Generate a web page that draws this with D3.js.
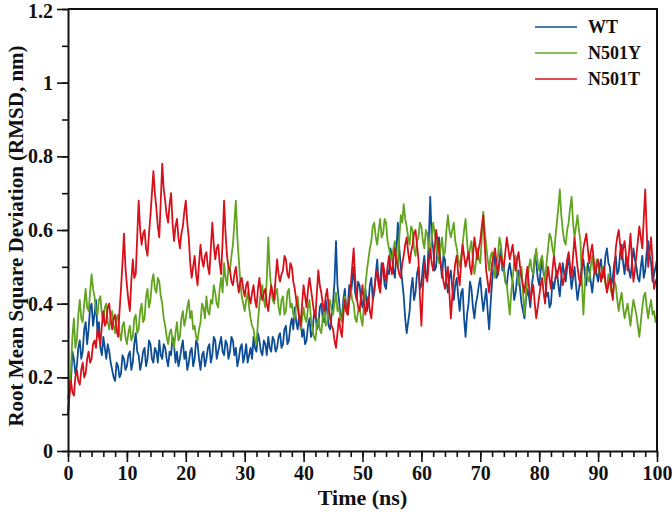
<!DOCTYPE html>
<html>
<head>
<meta charset="utf-8">
<script src="https://cdn.jsdelivr.net/npm/d3@7"></script>
<style>
  body { margin: 0; background: #fff; }
  svg text { font-family: "Liberation Serif", "Times New Roman", serif; font-weight: bold; fill: #111; }
</style>
</head>
<body>
<div class="rmsd-page"></div>
<script>
// RMSD sampled every 0.25 ns, 0..100 ns
const step = 0.25;
const seriesNames = ["WT", "N501Y", "N501T"];
const colors = ["#0d4d95", "#62a420", "#d7101a"];

const wt = [
  0.10, 0.16, 0.19, 0.27, 0.25, 0.21, 0.23, 0.28, 0.30, 0.25, 0.27, 0.33, 0.35, 0.29, 0.33, 0.39, 0.40, 0.34, 0.37, 0.41,
  0.32, 0.35, 0.28, 0.26, 0.31, 0.28, 0.25, 0.29, 0.27, 0.24, 0.22, 0.20, 0.19, 0.24, 0.23, 0.20, 0.21, 0.26, 0.25, 0.22,
  0.23, 0.26, 0.27, 0.22, 0.24, 0.29, 0.32, 0.27, 0.26, 0.22, 0.24, 0.27, 0.28, 0.23, 0.25, 0.30, 0.29, 0.25, 0.24, 0.28,
  0.27, 0.24, 0.30, 0.26, 0.25, 0.29, 0.28, 0.25, 0.23, 0.27, 0.26, 0.31, 0.29, 0.24, 0.27, 0.23, 0.25, 0.28, 0.30, 0.25,
  0.27, 0.22, 0.24, 0.27, 0.28, 0.23, 0.25, 0.30, 0.29, 0.25, 0.22, 0.26, 0.27, 0.23, 0.25, 0.28, 0.29, 0.24, 0.26, 0.31,
  0.30, 0.25, 0.27, 0.29, 0.31, 0.27, 0.26, 0.30, 0.29, 0.25, 0.27, 0.31, 0.30, 0.26, 0.28, 0.23, 0.25, 0.28, 0.29, 0.24,
  0.26, 0.29, 0.24, 0.26, 0.28, 0.25, 0.31, 0.28, 0.27, 0.32, 0.30, 0.27, 0.26, 0.30, 0.29, 0.26, 0.31, 0.28, 0.27, 0.31,
  0.30, 0.27, 0.28, 0.31, 0.32, 0.28, 0.29, 0.33, 0.34, 0.29, 0.30, 0.34, 0.36, 0.33, 0.39, 0.35, 0.33, 0.37, 0.36, 0.31,
  0.33, 0.29, 0.30, 0.34, 0.36, 0.31, 0.32, 0.37, 0.38, 0.33, 0.34, 0.39, 0.40, 0.36, 0.35, 0.41, 0.38, 0.34, 0.33, 0.37,
  0.40, 0.46, 0.57, 0.45, 0.41, 0.37, 0.36, 0.41, 0.44, 0.38, 0.39, 0.45, 0.42, 0.46, 0.50, 0.43, 0.41, 0.46, 0.45, 0.41,
  0.39, 0.42, 0.44, 0.38, 0.40, 0.45, 0.47, 0.41, 0.43, 0.48, 0.52, 0.45, 0.46, 0.51, 0.50, 0.45, 0.44, 0.49, 0.48, 0.55,
  0.53, 0.49, 0.47, 0.54, 0.62, 0.55, 0.50, 0.46, 0.42, 0.36, 0.32, 0.35, 0.38, 0.44, 0.47, 0.41, 0.43, 0.48, 0.50, 0.44,
  0.45, 0.50, 0.53, 0.47, 0.48, 0.57, 0.69, 0.58, 0.55, 0.49, 0.50, 0.56, 0.58, 0.51, 0.47, 0.53, 0.52, 0.46, 0.43, 0.47,
  0.49, 0.44, 0.41, 0.45, 0.47, 0.42, 0.38, 0.43, 0.44, 0.36, 0.31, 0.37, 0.40, 0.46, 0.44, 0.39, 0.36, 0.40, 0.42, 0.45,
  0.47, 0.42, 0.38, 0.41, 0.44, 0.38, 0.33, 0.40, 0.46, 0.50, 0.53, 0.47, 0.48, 0.52, 0.55, 0.49, 0.50, 0.46, 0.45, 0.49,
  0.51, 0.48, 0.46, 0.41, 0.43, 0.47, 0.49, 0.44, 0.40, 0.38, 0.36, 0.41, 0.44, 0.42, 0.39, 0.45, 0.48, 0.53, 0.51, 0.47,
  0.45, 0.49, 0.52, 0.48, 0.47, 0.42, 0.43, 0.39, 0.40, 0.46, 0.44, 0.47, 0.49, 0.45, 0.42, 0.47, 0.51, 0.48, 0.46, 0.50,
  0.53, 0.48, 0.44, 0.47, 0.50, 0.45, 0.41, 0.44, 0.47, 0.50, 0.52, 0.48, 0.45, 0.51, 0.49, 0.46, 0.43, 0.47, 0.50, 0.48,
  0.46, 0.50, 0.52, 0.47, 0.48, 0.53, 0.55, 0.51, 0.50, 0.45, 0.47, 0.51, 0.53, 0.48, 0.49, 0.54, 0.56, 0.51, 0.48, 0.53,
  0.52, 0.49, 0.47, 0.51, 0.55, 0.52, 0.50, 0.47, 0.46, 0.50, 0.53, 0.47, 0.49, 0.54, 0.57, 0.53, 0.51, 0.46, 0.48, 0.50,
  0.52
];

const n501y = [
  0.14, 0.17, 0.22, 0.31, 0.36, 0.28, 0.30, 0.37, 0.41, 0.36, 0.35, 0.40, 0.44, 0.39, 0.38, 0.43, 0.48, 0.44, 0.42, 0.38,
  0.37, 0.41, 0.42, 0.37, 0.35, 0.39, 0.40, 0.35, 0.33, 0.37, 0.38, 0.34, 0.32, 0.36, 0.37, 0.32, 0.30, 0.34, 0.35, 0.31,
  0.29, 0.32, 0.34, 0.30, 0.31, 0.36, 0.37, 0.32, 0.33, 0.38, 0.40, 0.35, 0.36, 0.42, 0.44, 0.39, 0.41, 0.46, 0.48, 0.44,
  0.43, 0.47, 0.46, 0.42, 0.40, 0.36, 0.34, 0.31, 0.29, 0.32, 0.33, 0.30, 0.28, 0.32, 0.35, 0.30, 0.31, 0.36, 0.38, 0.34,
  0.36, 0.39, 0.41, 0.36, 0.38, 0.33, 0.34, 0.31, 0.30, 0.33, 0.35, 0.40, 0.39, 0.36, 0.42, 0.38, 0.37, 0.41, 0.40, 0.45,
  0.43, 0.40, 0.39, 0.44, 0.47, 0.43, 0.51, 0.47, 0.45, 0.50, 0.49, 0.53, 0.56, 0.62, 0.68, 0.58, 0.52, 0.46, 0.42, 0.40,
  0.38, 0.41, 0.43, 0.39, 0.36, 0.34, 0.33, 0.30, 0.29, 0.35, 0.40, 0.43, 0.45, 0.41, 0.39, 0.47, 0.58, 0.49, 0.44, 0.41,
  0.40, 0.43, 0.44, 0.39, 0.37, 0.41, 0.42, 0.37, 0.38, 0.43, 0.44, 0.39, 0.40, 0.37, 0.36, 0.40, 0.42, 0.37, 0.33, 0.36,
  0.39, 0.36, 0.35, 0.39, 0.41, 0.36, 0.33, 0.31, 0.30, 0.34, 0.36, 0.33, 0.32, 0.36, 0.38, 0.34, 0.35, 0.39, 0.41, 0.38,
  0.37, 0.40, 0.43, 0.38, 0.39, 0.36, 0.35, 0.39, 0.42, 0.38, 0.37, 0.41, 0.44, 0.41, 0.40, 0.36, 0.35, 0.38, 0.39, 0.36,
  0.34, 0.40, 0.45, 0.49, 0.52, 0.55, 0.57, 0.61, 0.62, 0.58, 0.56, 0.60, 0.63, 0.58, 0.59, 0.63, 0.62, 0.57, 0.55, 0.53,
  0.52, 0.55, 0.57, 0.52, 0.50, 0.58, 0.64, 0.62, 0.67, 0.63, 0.61, 0.58, 0.56, 0.61, 0.60, 0.55, 0.53, 0.57, 0.58, 0.62,
  0.61, 0.57, 0.55, 0.60, 0.59, 0.55, 0.53, 0.58, 0.62, 0.59, 0.57, 0.53, 0.51, 0.55, 0.58, 0.53, 0.54, 0.60, 0.64, 0.60,
  0.58, 0.60, 0.62, 0.57, 0.55, 0.52, 0.50, 0.53, 0.56, 0.60, 0.63, 0.57, 0.52, 0.55, 0.57, 0.52, 0.48, 0.51, 0.55, 0.52,
  0.51, 0.58, 0.65, 0.60, 0.56, 0.52, 0.49, 0.53, 0.54, 0.50, 0.47, 0.51, 0.53, 0.58, 0.56, 0.52, 0.49, 0.46, 0.45, 0.41,
  0.37, 0.43, 0.47, 0.51, 0.53, 0.48, 0.45, 0.48, 0.50, 0.43, 0.37, 0.42, 0.46, 0.50, 0.52, 0.49, 0.48, 0.52, 0.55, 0.51,
  0.49, 0.52, 0.53, 0.49, 0.46, 0.51, 0.55, 0.59, 0.58, 0.55, 0.53, 0.58, 0.62, 0.66, 0.71, 0.64, 0.60, 0.57, 0.56, 0.60,
  0.62, 0.66, 0.69, 0.62, 0.58, 0.61, 0.64, 0.60, 0.57, 0.46, 0.37, 0.45, 0.50, 0.47, 0.46, 0.50, 0.53, 0.49, 0.48, 0.52,
  0.51, 0.48, 0.46, 0.50, 0.49, 0.45, 0.44, 0.48, 0.47, 0.43, 0.42, 0.46, 0.45, 0.41, 0.38, 0.41, 0.43, 0.39, 0.36, 0.38,
  0.40, 0.37, 0.34, 0.38, 0.41, 0.39, 0.37, 0.34, 0.31, 0.35, 0.39, 0.42, 0.43, 0.39, 0.36, 0.39, 0.41, 0.37, 0.38, 0.35,
  0.37
];

const n501t = [
  0.10, 0.15, 0.19, 0.16, 0.15, 0.20, 0.22, 0.19, 0.18, 0.22, 0.24, 0.20, 0.21, 0.25, 0.27, 0.24, 0.25, 0.29, 0.30, 0.28,
  0.33, 0.31, 0.29, 0.34, 0.38, 0.34, 0.35, 0.39, 0.40, 0.36, 0.33, 0.36, 0.37, 0.33, 0.31, 0.38, 0.44, 0.51, 0.59, 0.50,
  0.45, 0.41, 0.38, 0.46, 0.52, 0.47, 0.48, 0.58, 0.68, 0.60, 0.56, 0.59, 0.60, 0.55, 0.53, 0.59, 0.64, 0.70, 0.76, 0.70,
  0.66, 0.61, 0.58, 0.68, 0.78, 0.71, 0.68, 0.64, 0.62, 0.67, 0.70, 0.62, 0.57, 0.61, 0.63, 0.58, 0.55, 0.59, 0.61, 0.65,
  0.68, 0.62, 0.58, 0.51, 0.47, 0.50, 0.53, 0.48, 0.45, 0.51, 0.56, 0.52, 0.50, 0.53, 0.54, 0.50, 0.48, 0.55, 0.62, 0.56,
  0.52, 0.55, 0.56, 0.51, 0.48, 0.57, 0.68, 0.59, 0.53, 0.50, 0.49, 0.46, 0.45, 0.48, 0.50, 0.46, 0.43, 0.46, 0.47, 0.44,
  0.42, 0.45, 0.46, 0.42, 0.40, 0.43, 0.45, 0.41, 0.39, 0.44, 0.47, 0.43, 0.41, 0.43, 0.44, 0.40, 0.38, 0.42, 0.45, 0.43,
  0.41, 0.47, 0.52, 0.48, 0.46, 0.48, 0.49, 0.53, 0.52, 0.48, 0.47, 0.51, 0.50, 0.46, 0.44, 0.41, 0.39, 0.36, 0.34, 0.40,
  0.45, 0.42, 0.39, 0.44, 0.47, 0.44, 0.41, 0.38, 0.36, 0.43, 0.49, 0.45, 0.43, 0.40, 0.38, 0.42, 0.44, 0.39, 0.36, 0.34,
  0.33, 0.30, 0.28, 0.32, 0.36, 0.33, 0.31, 0.37, 0.41, 0.38, 0.37, 0.41, 0.45, 0.50, 0.55, 0.47, 0.42, 0.39, 0.38, 0.42,
  0.45, 0.40, 0.37, 0.40, 0.42, 0.38, 0.36, 0.41, 0.44, 0.47, 0.49, 0.45, 0.43, 0.48, 0.51, 0.48, 0.46, 0.50, 0.53, 0.50,
  0.48, 0.52, 0.55, 0.52, 0.50, 0.48, 0.47, 0.51, 0.53, 0.56, 0.58, 0.54, 0.51, 0.54, 0.56, 0.59, 0.60, 0.56, 0.52, 0.42,
  0.34, 0.44, 0.51, 0.48, 0.46, 0.51, 0.55, 0.51, 0.49, 0.55, 0.60, 0.57, 0.54, 0.51, 0.49, 0.46, 0.44, 0.47, 0.50, 0.43,
  0.36, 0.42, 0.47, 0.51, 0.53, 0.48, 0.45, 0.51, 0.56, 0.53, 0.50, 0.52, 0.54, 0.50, 0.48, 0.53, 0.58, 0.55, 0.52, 0.55,
  0.57, 0.61, 0.64, 0.56, 0.49, 0.46, 0.43, 0.47, 0.51, 0.53, 0.55, 0.51, 0.48, 0.51, 0.53, 0.51, 0.50, 0.54, 0.58, 0.55,
  0.52, 0.54, 0.56, 0.52, 0.49, 0.52, 0.54, 0.50, 0.47, 0.45, 0.43, 0.47, 0.50, 0.45, 0.41, 0.43, 0.45, 0.40, 0.36, 0.39,
  0.42, 0.45, 0.47, 0.43, 0.40, 0.46, 0.50, 0.47, 0.44, 0.49, 0.53, 0.50, 0.47, 0.49, 0.51, 0.48, 0.45, 0.47, 0.49, 0.52,
  0.54, 0.50, 0.47, 0.53, 0.58, 0.54, 0.50, 0.47, 0.45, 0.50, 0.55, 0.57, 0.59, 0.55, 0.51, 0.54, 0.56, 0.52, 0.48, 0.50,
  0.52, 0.49, 0.46, 0.48, 0.50, 0.46, 0.43, 0.45, 0.47, 0.44, 0.41, 0.48, 0.55, 0.58, 0.60, 0.56, 0.52, 0.55, 0.57, 0.53,
  0.49, 0.54, 0.59, 0.52, 0.46, 0.49, 0.53, 0.57, 0.61, 0.58, 0.55, 0.63, 0.71, 0.60, 0.50, 0.54, 0.58, 0.51, 0.44, 0.46,
  0.47
];

const xTicks = [0, 10, 20, 30, 40, 50, 60, 70, 80, 90, 100];
const yTicks = [0, 0.2, 0.4, 0.6, 0.8, 1, 1.2];

let width = 672, height = 518;
let margin = { left: 68, right: 15, top: 9, bottom: 67 };

let svg = d3.select(".rmsd-page")
  .append("svg")
  .attr("width", width)
  .attr("height", height);

let x = d3.scaleLinear().domain([0, 100]).range([margin.left, width - margin.right]);
let y = d3.scaleLinear().domain([0, 1.2]).range([height - margin.bottom, margin.top]);

let allSeries = [wt, n501y, n501t];

let line = d3.line()
  .x(function(d, i) { return x(i * step); })
  .y(function(d) { return y(d); });

let plot = svg.append("g");
allSeries.forEach(function(s, k) {
  plot.append("path")
    .datum(s)
    .attr("fill", "none")
    .attr("stroke", colors[k])
    .attr("stroke-width", 1.8)
    .attr("stroke-linejoin", "round")
    .attr("d", line);
});

// minor ticks
let xMinor = d3.range(0, 101, 2);
let yMinor = d3.range(0, 1.21, 0.1);

svg.append("g")
  .attr("transform", "translate(0," + y(0) + ")")
  .call(d3.axisBottom(x).tickValues(xMinor).tickSize(6).tickFormat(""))
  .call(function(g) { g.select(".domain").remove(); });

svg.append("g")
  .attr("transform", "translate(" + x(0) + ",0)")
  .call(d3.axisLeft(y).tickValues(yMinor).tickSize(6).tickFormat(""))
  .call(function(g) { g.select(".domain").remove(); });

let xAxis = svg.append("g")
  .attr("transform", "translate(0," + y(0) + ")")
  .call(d3.axisBottom(x).tickValues(xTicks).tickSize(11).tickPadding(4).tickSizeOuter(0));

let yAxis = svg.append("g")
  .attr("transform", "translate(" + x(0) + ",0)")
  .call(d3.axisLeft(y).tickValues(yTicks).tickSize(11).tickPadding(4).tickSizeOuter(0)
    .tickFormat(function(d) { return String(+d.toFixed(1)); }));

[xAxis, yAxis].forEach(function(g) {
  g.select(".domain").attr("stroke", "#111").attr("stroke-width", 2);
  g.selectAll("text").style("font-size", "20px");
});
// nudge the top label so it stays inside the page
yAxis.selectAll("text").filter(function(d) { return d === 1.2; }).attr("dy", "0.42em");
svg.selectAll("g.tick line").attr("stroke", "#111").attr("stroke-width", 1.6);

// frame top and right
svg.append("path")
  .attr("d", "M" + x(0) + "," + y(1.2) + "H" + x(100) + "V" + y(0))
  .attr("fill", "none")
  .attr("stroke", "#111")
  .attr("stroke-width", 2);

svg.append("text")
  .attr("x", (x(0) + x(100)) / 2)
  .attr("y", 505)
  .attr("text-anchor", "middle")
  .style("font-size", "22px")
  .text("Time (ns)");

svg.append("text")
  .attr("transform", "translate(23,236) rotate(-90)")
  .attr("text-anchor", "middle")
  .style("font-size", "21px")
  .text("Root Mean Square Deviation (RMSD, nm)");

// legend
let legend = svg.append("g");
seriesNames.forEach(function(name, k) {
  let ly = 27 + k * 26;
  legend.append("line")
    .attr("x1", 535).attr("x2", 577)
    .attr("y1", ly).attr("y2", ly)
    .attr("stroke", colors[k])
    .attr("stroke-width", 1.6);
  legend.append("text")
    .attr("x", 588)
    .attr("y", ly + 6)
    .style("font-size", "18px")
    .text(name);
});
</script>
</body>
</html>
